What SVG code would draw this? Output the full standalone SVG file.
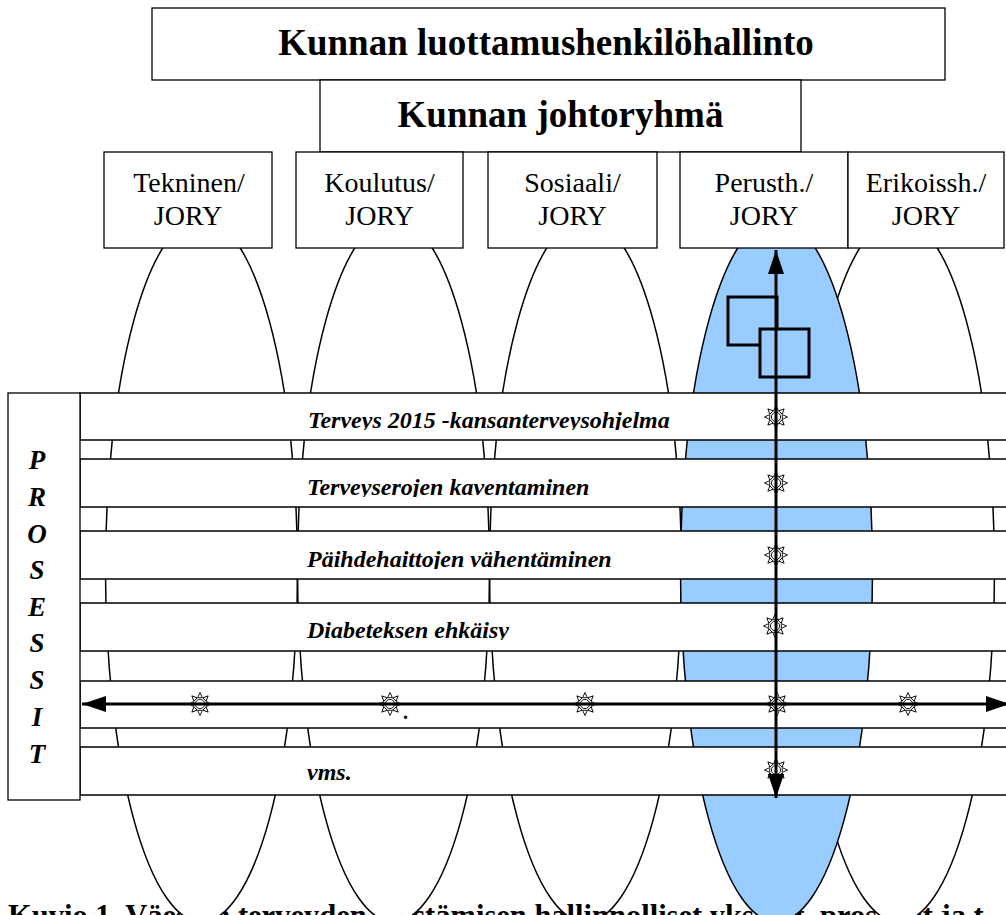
<svg xmlns="http://www.w3.org/2000/svg" xmlns:xlink="http://www.w3.org/1999/xlink" width="1006" height="915" viewBox="0 0 1006 915">
<style>
.serif{font-family:"Liberation Serif","Times New Roman",serif;}
.box{fill:#ffffff;stroke:#000000;stroke-width:1.3;}
.ell{fill:#ffffff;stroke:#000000;stroke-width:1.5;}
.ellb{fill:#99CCFF;stroke:#000000;stroke-width:1.5;}
.band{fill:#ffffff;stroke:#000000;stroke-width:1.5;}
.title{font-size:37px;font-weight:bold;text-anchor:middle;}
.jory{font-size:28px;text-anchor:middle;}
.proc{font-size:24px;font-weight:bold;font-style:italic;}
.pl{font-size:27px;font-weight:bold;font-style:italic;text-anchor:middle;}
.cap{font-size:30.5px;font-weight:bold;}
.sq{fill:#99CCFF;stroke:#000000;stroke-width:3;}
.arr{stroke:#000000;stroke-width:3;fill:none;marker-start:url(#ah);marker-end:url(#ah);}
</style>
<defs>
<marker id="ah" markerUnits="userSpaceOnUse" markerWidth="24" markerHeight="16" viewBox="0 0 24 16" refX="24" refY="8" orient="auto-start-reverse">
<path d="M0,0 L24,8 L0,16 Z" fill="#000000"/>
</marker>
<g id="sun">
<g fill="#ffffff" stroke="#000000" stroke-width="0.9">
<path d="M0,-11.5 L-2.4,-6.3 L2.4,-6.3 Z"/>
<path d="M0,-11.5 L-2.4,-6.3 L2.4,-6.3 Z" transform="rotate(45)"/>
<path d="M0,-11.5 L-2.4,-6.3 L2.4,-6.3 Z" transform="rotate(90)"/>
<path d="M0,-11.5 L-2.4,-6.3 L2.4,-6.3 Z" transform="rotate(135)"/>
<path d="M0,-11.5 L-2.4,-6.3 L2.4,-6.3 Z" transform="rotate(180)"/>
<path d="M0,-11.5 L-2.4,-6.3 L2.4,-6.3 Z" transform="rotate(225)"/>
<path d="M0,-11.5 L-2.4,-6.3 L2.4,-6.3 Z" transform="rotate(270)"/>
<path d="M0,-11.5 L-2.4,-6.3 L2.4,-6.3 Z" transform="rotate(315)"/>
<circle cx="0" cy="0" r="4.6"/>
</g>
</g>
<clipPath id="c1"><rect x="80" y="394" width="930" height="36"/></clipPath>
<clipPath id="c2"><rect x="80" y="460" width="930" height="37"/></clipPath>
<clipPath id="c3"><rect x="80" y="532" width="930" height="37"/></clipPath>
<clipPath id="c4"><rect x="80" y="604" width="930" height="36"/></clipPath>
</defs>
<rect x="0" y="0" width="1006" height="915" fill="#ffffff"/>

<g id="ellipse-sosiaali">
<ellipse class="ell" cx="585.5" cy="570" rx="96" ry="352"/>
</g>

<g id="caption">
<text class="serif cap" x="8" y="926">Kuvio 1. Väestön terveyden edistämisen hallinnolliset yksiköt, prosessit ja t</text>
</g>

<g id="ellipses">
<ellipse class="ell" cx="201.5" cy="570" rx="96" ry="352"/>
<ellipse class="ell" cx="393.5" cy="570" rx="96" ry="352"/>
<ellipse class="ell" cx="898.5" cy="570" rx="96" ry="352"/>
<ellipse class="ellb" cx="776.5" cy="570" rx="96" ry="352"/>
<rect class="sq" x="728" y="297" width="49" height="48"/>
<rect class="sq" x="760" y="329" width="49" height="48"/>
</g>

<g id="luottamushenkilohallinto">
<rect class="box" x="152" y="8" width="793" height="72"/>
<text class="serif title" x="546" y="55">Kunnan luottamushenkilöhallinto</text>
</g>
<g id="johtoryhma">
<rect class="box" x="320" y="80" width="481" height="72"/>
<text class="serif title" x="560.5" y="127">Kunnan johtoryhmä</text>
</g>

<g id="tekninen">
<rect class="box" x="104" y="152" width="168" height="96"/>
<text class="serif jory" x="189" y="192">Tekninen/</text>
<text class="serif jory" x="188" y="225">JORY</text>
</g>
<g id="koulutus">
<rect class="box" x="296" y="152" width="167" height="96"/>
<text class="serif jory" x="379.5" y="192">Koulutus/</text>
<text class="serif jory" x="379.5" y="225">JORY</text>
</g>
<g id="sosiaali">
<rect class="box" x="488" y="152" width="169" height="96"/>
<text class="serif jory" x="572.5" y="192">Sosiaali/</text>
<text class="serif jory" x="572.5" y="225">JORY</text>
</g>
<g id="perusth">
<rect class="box" x="680" y="152" width="168" height="96"/>
<text class="serif jory" x="764" y="192">Perusth./</text>
<text class="serif jory" x="764" y="225">JORY</text>
</g>
<g id="erikoissh">
<rect class="box" x="848" y="152" width="156" height="96"/>
<text class="serif jory" x="926" y="192">Erikoissh./</text>
<text class="serif jory" x="926" y="225">JORY</text>
</g>

<g id="band1">
<rect class="band" x="80" y="393" width="940" height="47"/>
<text class="serif proc" x="308" y="428" clip-path="url(#c1)">Terveys 2015 -kansanterveysohjelma</text>
</g>
<g id="band2">
<rect class="band" x="80" y="459" width="940" height="48"/>
<text class="serif proc" x="307" y="495" clip-path="url(#c2)">Terveyserojen kaventaminen</text>
</g>
<g id="band3">
<rect class="band" x="80" y="531" width="940" height="48"/>
<text class="serif proc" x="307" y="567" clip-path="url(#c3)">Päihdehaittojen vähentäminen</text>
</g>
<g id="band4">
<rect class="band" x="80" y="603" width="940" height="48"/>
<text class="serif proc" x="307" y="638" clip-path="url(#c4)">Diabeteksen ehkäisy</text>
</g>
<g id="band5">
<rect class="band" x="80" y="681" width="940" height="47"/>
</g>
<g id="band6">
<rect class="band" x="80" y="747" width="940" height="48"/>
<text class="serif proc" x="307" y="780">vms.</text>
</g>

<g id="prosessit">
<rect class="box" x="8" y="393" width="72" height="407"/>
<text class="serif pl" x="37" y="469">P</text>
<text class="serif pl" x="37" y="506">R</text>
<text class="serif pl" x="37" y="543">O</text>
<text class="serif pl" x="37" y="579">S</text>
<text class="serif pl" x="37" y="616">E</text>
<text class="serif pl" x="37" y="652">S</text>
<text class="serif pl" x="37" y="689">S</text>
<text class="serif pl" x="37" y="726">I</text>
<text class="serif pl" x="37" y="763">T</text>
</g>

<g id="markers">
<use xlink:href="#sun" x="776" y="417"/>
<use xlink:href="#sun" x="776" y="483"/>
<use xlink:href="#sun" x="776" y="555"/>
<use xlink:href="#sun" x="775" y="626"/>
<use xlink:href="#sun" x="776" y="770"/>
<use xlink:href="#sun" x="200" y="704"/>
<use xlink:href="#sun" x="390" y="704"/>
<use xlink:href="#sun" x="585" y="704"/>
<use xlink:href="#sun" x="777" y="704"/>
<use xlink:href="#sun" x="908" y="704"/>
<text class="serif" x="403" y="719" style="font-size:20px;font-weight:bold;">.</text>
</g>

<g id="connectors">
<line class="arr" x1="776" y1="798" x2="776" y2="250"/>
<line class="arr" x1="82" y1="704" x2="1010" y2="704"/>
</g>
</svg>
